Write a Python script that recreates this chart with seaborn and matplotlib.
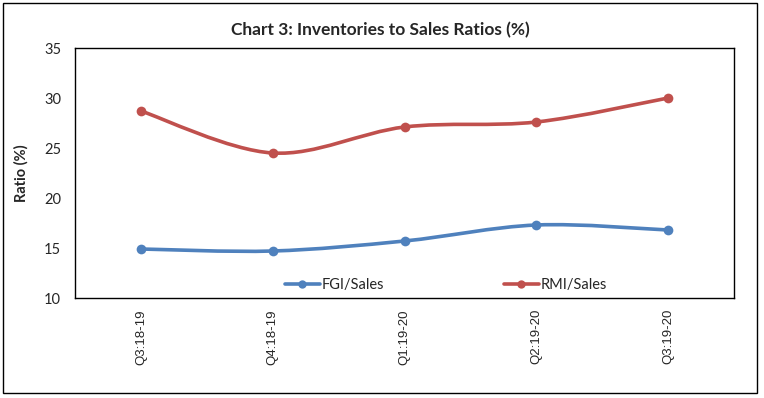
import numpy as np
import pandas as pd
import matplotlib
matplotlib.use("Agg")
import matplotlib.pyplot as plt
from matplotlib.path import Path
from matplotlib.patches import PathPatch, Rectangle
from matplotlib.lines import Line2D
import seaborn as sns

quarters = ["Q3:18-19", "Q4:18-19", "Q1:19-20", "Q2:19-20", "Q3:19-20"]
fgi_sales = [14.9, 14.7, 15.7, 17.3, 16.8]
rmi_sales = [28.7, 24.5, 27.1, 27.6, 30.0]

series_names = ["FGI/Sales", "RMI/Sales"]
colors = {"FGI/Sales": "#4F81BD", "RMI/Sales": "#C0504D"}

df = pd.DataFrame({
    "quarter": quarters * 2,
    "ratio": fgi_sales + rmi_sales,
    "series": ["FGI/Sales"] * len(quarters) + ["RMI/Sales"] * len(quarters),
})


def smooth_path(xs, ys):
    # Excel-like smoothed line: cubic bezier through the points
    pts = np.column_stack([xs, ys]).astype(float)
    n = len(pts)
    verts = [pts[0]]
    codes = [Path.MOVETO]
    for i in range(n - 1):
        p0 = pts[i - 1] if i > 0 else pts[i]
        p1, p2 = pts[i], pts[i + 1]
        p3 = pts[i + 2] if i + 2 < n else pts[i + 1]
        c1 = p1 + (p2 - p0) / 6.0
        c2 = p2 - (p3 - p1) / 6.0
        verts += [c1, c2, p2]
        codes += [Path.CURVE4] * 3
    return Path(verts, codes)


sns.set_style("white")
plt.rcParams["font.family"] = ["Lato", "DejaVu Sans"]

fig, ax = plt.subplots(figsize=(7.64, 3.98), dpi=100)
fig.subplots_adjust(left=75 / 764, right=734 / 764, top=1 - 48 / 398, bottom=1 - 298 / 398)

# markers via seaborn, lines drawn smooth afterwards
sns.lineplot(data=df, x="quarter", y="ratio", hue="series", palette=colors,
             marker="o", markersize=7, markeredgewidth=0, linewidth=0,
             legend=False, ax=ax, zorder=3)

xpos = np.arange(len(quarters))
for name, vals in zip(series_names, [fgi_sales, rmi_sales]):
    patch = PathPatch(smooth_path(xpos, vals), facecolor="none",
                      edgecolor=colors[name], linewidth=2.6, zorder=2,
                      capstyle="round", joinstyle="round")
    ax.add_patch(patch)

ax.set_xlim(-0.5, len(quarters) - 0.5)
ax.set_ylim(10, 35)
ax.set_yticks(np.arange(10, 36, 5))
ax.set_xticks(xpos, quarters, rotation=90, fontsize=9.5,
              fontfamily=["Liberation Sans", "DejaVu Sans"])
ax.set_xlabel("")
ax.set_ylabel("Ratio (%)", fontsize=10.5, fontweight="bold")
ax.yaxis.set_label_coords(-0.07, 0.5)
ax.tick_params(axis="y", labelsize=10.5, length=0, pad=10)
ax.tick_params(axis="x", length=0, pad=8)

for sp in ax.spines.values():
    sp.set_color("black")
    sp.set_linewidth(1.0)

ax.set_title("Chart 3: Inventories to Sales Ratios (%)", fontsize=12.5,
             fontweight="bold", pad=9, x=0.464)

handles = [Line2D([], [], color=colors[n], linewidth=2.6, marker="o",
                  markersize=6, markeredgewidth=0) for n in series_names]
ax.legend(handles, series_names, loc="center", bbox_to_anchor=(0.563, 0.05),
          ncol=2, frameon=False, fontsize=10.5, handlelength=2.4,
          handletextpad=0.15, columnspacing=8.2, borderaxespad=0)

fig.patches.append(Rectangle((3 / 764, 5 / 398), 754 / 764, 390 / 398,
                             transform=fig.transFigure, fill=False,
                             edgecolor="black", linewidth=1.0))

fig.savefig("out.png", dpi=100)
